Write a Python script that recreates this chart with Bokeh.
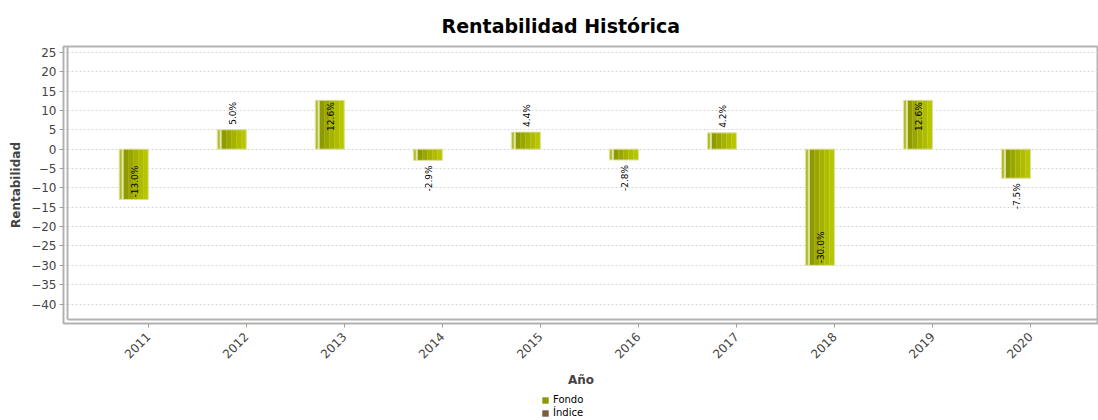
from math import pi
from bokeh.plotting import figure
from bokeh.layouts import column
from bokeh.models import Range1d, FixedTicker, Legend, LegendItem, ColumnDataSource
from bokeh.core.properties import value
from bokeh.embed import file_html
from bokeh.resources import INLINE

# ---- data ----
years = [2011, 2012, 2013, 2014, 2015, 2016, 2017, 2018, 2019, 2020]
fondo = [-13.0, 5.0, 12.6, -2.9, 4.4, -2.8, 4.2, -30.0, 12.6, -7.5]
indice = [float("nan")] * 10
y_ticks = [-40, -35, -30, -25, -20, -15, -10, -5, 0, 5, 10, 15, 20, 25]
series_names = ["Fondo", "Índice"]

title_text = "Rentabilidad Histórica"
y_label = "Rentabilidad"
x_label = "Año"

# ---- layout constants ----
PX = 98.03          # pixels per year on x
PY = 3.888          # pixels per unit on y
FONT = "DejaVu Sans"
GRAY = "#444444"
FRAME = "#b4b4b4"
FONDO_C = "#8b9a00"
INDICE_C = "#7c5a3c"

p = figure(width=1098, height=390, output_backend="svg", toolbar_location=None,
           x_range=Range1d(2010.136, 2020.694), y_range=Range1d(-45.01, 26.49),
           min_border_left=63, min_border_right=0, min_border_top=46,
           min_border_bottom=66)

p.title.text = title_text
p.title.text_font = FONT
p.title.text_font_size = "19px"
p.title.text_font_style = "bold"
p.title.text_color = "black"
p.title.align = "left"
p.title.offset = 378
p.title.standoff = 19

p.background_fill_color = "white"
p.border_fill_color = "white"
p.outline_line_color = FRAME
p.outline_line_width = 2

# grid
p.xgrid.visible = False
p.ygrid.ticker = FixedTicker(ticks=y_ticks)
p.ygrid.grid_line_color = "#d6d6d6"
p.ygrid.grid_line_dash = "2 2"
p.ygrid.grid_line_width = 1

# axes
for ax in (p.xaxis[0], p.yaxis[0]):
    ax.axis_line_color = "#b0b0b0"
    ax.major_tick_line_color = "#a0a0a0"
    ax.major_tick_out = 4
    ax.major_tick_in = 0
    ax.minor_tick_line_color = None
    ax.major_label_text_font = FONT
    ax.major_label_text_font_size = "12px"
    ax.major_label_text_color = GRAY
    ax.axis_label_text_font = FONT
    ax.axis_label_text_font_size = "12px"
    ax.axis_label_text_font_style = "bold"
    ax.axis_label_text_color = GRAY

p.yaxis.ticker = FixedTicker(ticks=y_ticks)
p.yaxis.major_label_standoff = 3
p.yaxis.axis_label = y_label
p.yaxis.axis_label_standoff = 5

p.xaxis.ticker = FixedTicker(ticks=years)
p.xaxis.major_label_orientation = pi / 4
p.xaxis.major_label_standoff = 7
p.xaxis.axis_label = x_label
p.xaxis.axis_label_standoff = 8

# inner frame (left and bottom) offset from the axes
xl = p.x_range.start + 4 / PX
yb = p.y_range.start + 4 / PY
p.segment(x0=[xl, xl], y0=[yb, yb], x1=[xl, p.x_range.end], y1=[p.y_range.end, yb],
          line_color=FRAME, line_width=2)

# ---- bars ----
src = ColumnDataSource(dict(
    year=years,
    fondo=fondo,
    stripe_x=[y - 27.5 / PX for y in years],
    main_x=[y - 12.5 / PX for y in years],
    lbl_x=[y - 13.5 / PX for y in years],
    label=[f"{v:.1f}%" for v in fondo],
    align=[("right" if abs(v) > 10 else "left") if v >= 0 else ("left" if abs(v) > 10 else "right") for v in fondo],
    yoff=[(2 if abs(v) > 10 else -5) if v >= 0 else (-2 if abs(v) > 10 else 5) for v in fondo],
))

# thin highlight stripe
p.vbar(x="stripe_x", top="fondo", bottom=0, width=3 / PX, source=src,
       fill_color="#b3bd2c", line_color="#dfe4a6", line_width=1)

# main bar as gradient strips
grad = ["#8e9b00", "#99a700", "#a5b300", "#afbd00", "#b8c600"]
for i, c in enumerate(grad):
    off = -25 / PX + (i + 0.5) * 5 / PX
    s = ColumnDataSource(dict(x=[y + off for y in years], top=fondo))
    p.vbar(x="x", top="top", bottom=0, width=5.2 / PX, source=s,
           fill_color=c, line_color=None)
p.vbar(x="main_x", top="fondo", bottom=0, width=25 / PX, source=src,
       fill_color=None, line_color="#dadf9c", line_width=1)

# Índice series (no values shown in the chart)
p.vbar(x=[y + 12.5 / PX for y in years], top=indice, bottom=0, width=25 / PX,
       fill_color=INDICE_C, line_color=None)

# value labels
p.text(x="lbl_x", y="fondo", text="label", angle=pi / 2, text_align="align",
       text_baseline="middle", y_offset="yoff", text_font=value(FONT),
       text_font_size="9px", text_color="black", source=src)

# ---- legend strip below the chart ----
lg = figure(width=1098, height=30, output_backend="svg", toolbar_location=None,
            x_range=Range1d(0, 1), y_range=Range1d(0, 1),
            min_border_left=63, min_border_right=0, min_border_top=0,
            min_border_bottom=0, x_axis_location=None, y_axis_location=None)
lg.outline_line_color = None
lg.grid.visible = False
lg.background_fill_color = "white"
lg.border_fill_color = "white"
r_f = lg.vbar(x=[0.5], top=[float("nan")], width=0.1, fill_color=FONDO_C, line_color=None)
r_i = lg.vbar(x=[0.5], top=[float("nan")], width=0.1, fill_color=INDICE_C, line_color=None)
legend = Legend(items=[LegendItem(label=series_names[0], renderers=[r_f]),
                       LegendItem(label=series_names[1], renderers=[r_i])],
                location=(478, 2), orientation="vertical",
                padding=0, margin=0, spacing=2, label_standoff=4,
                glyph_width=8, glyph_height=8, label_height=11,
                label_text_font=FONT, label_text_font_size="10px",
                label_text_color="black", border_line_color=None,
                background_fill_alpha=0)
lg.add_layout(legend, "center")

layout = column(p, lg, spacing=0)
open("out.html", "w").write(file_html(layout, INLINE))
